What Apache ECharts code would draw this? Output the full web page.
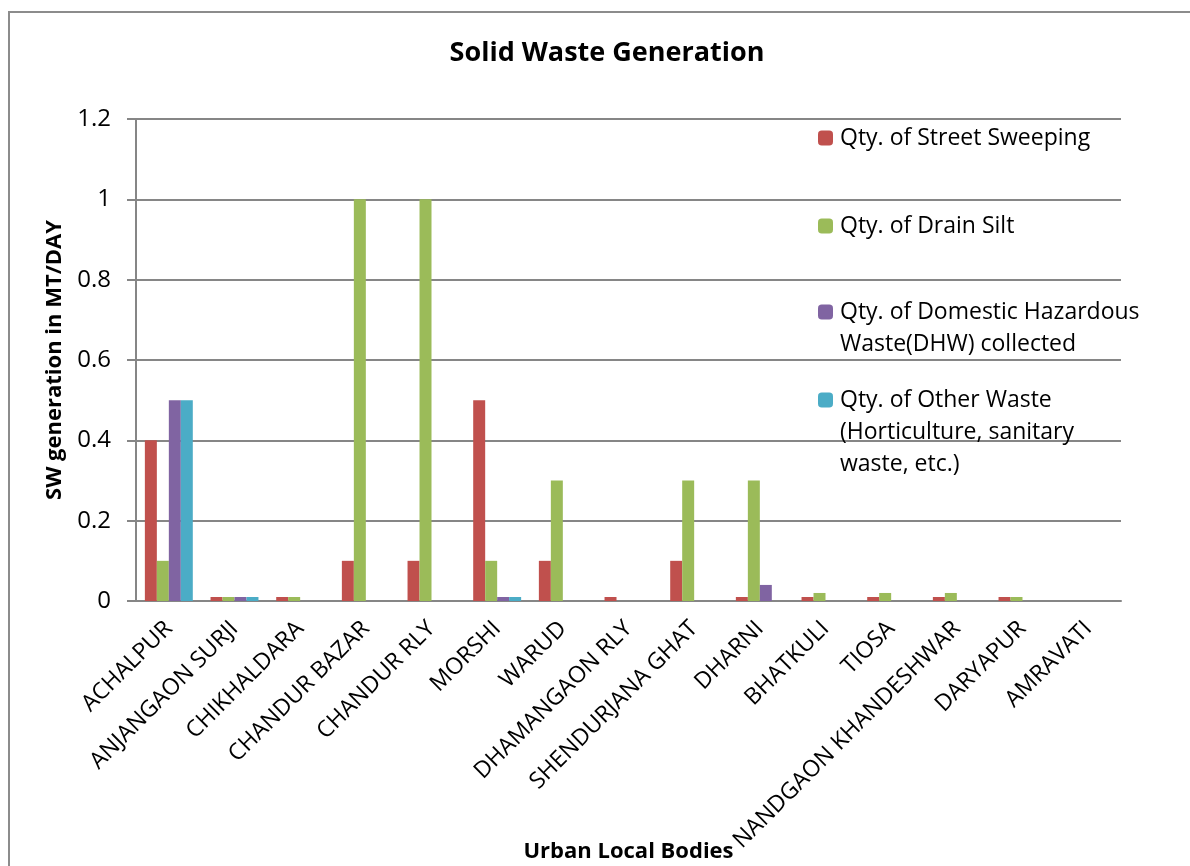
<!DOCTYPE html>
<html>
<head>
<meta charset="utf-8">
<script src="https://cdn.jsdelivr.net/npm/echarts@6/dist/echarts.min.js"></script>
<style>
  html, body { margin: 0; padding: 0; background: #fff; }
  #chart { width: 1190px; height: 866px; }
</style>
</head>
<body>
<div id="chart"></div>
<script>
// Urban local bodies of Amravati district
const categories = [
  'ACHALPUR', 'ANJANGAON SURJI', 'CHIKHALDARA', 'CHANDUR BAZAR', 'CHANDUR RLY',
  'MORSHI', 'WARUD', 'DHAMANGAON RLY', 'SHENDURJANA GHAT', 'DHARNI',
  'BHATKULI', 'TIOSA', 'NANDGAON KHANDESHWAR', 'DARYAPUR', 'AMRAVATI'
];

// Quantities in MT/DAY
const streetSweeping = [0.4, 0.01, 0.01, 0.1, 0.1, 0.5, 0.1, 0.01, 0.1, 0.01, 0.01, 0.01, 0.01, 0.01, 0];
const drainSilt      = [0.1, 0.01, 0.01, 1, 1, 0.1, 0.3, 0, 0.3, 0.3, 0.02, 0.02, 0.02, 0.01, 0];
const domesticHazard = [0.5, 0.01, 0, 0, 0, 0.01, 0, 0, 0, 0.04, 0, 0, 0, 0, 0];
const otherWaste     = [0.5, 0.01, 0, 0, 0, 0.01, 0, 0, 0, 0, 0, 0, 0, 0, 0];

const yTicks = [0, 0.2, 0.4, 0.6, 0.8, 1, 1.2];

const seriesNames = [
  'Qty. of Street Sweeping',
  'Qty. of Drain Silt',
  'Qty. of Domestic Hazardous\nWaste(DHW) collected',
  'Qty. of Other Waste\n(Horticulture, sanitary\nwaste, etc.)'
];
const seriesData = [streetSweeping, drainSilt, domesticHazard, otherWaste];
const colors = ['#C0504D', '#9BBB59', '#8064A2', '#4BACC6'];

const FONT = '"Open Sans", sans-serif';
const LEG_FS = 23;
const LEG_LH = 32;
const legendIconY = [138, 226, 312, 400];

// One legend per series so each entry sits on its own grid band;
// multi-line entries get leading blank lines so the swatch lines up with the first line.
const legends = seriesNames.map((name, i) => {
  const lines = name.split('\n').length;
  const boxH = (2 * lines - 1) * LEG_LH;
  return {
    data: [name],
    orient: 'vertical',
    left: 818,
    top: legendIconY[i] - boxH / 2,
    padding: 0,
    itemWidth: 15,
    itemHeight: 15,
    itemGap: 0,
    selectedMode: false,
    formatter: n => '\n'.repeat(lines - 1) + n,
    textStyle: {
      fontFamily: FONT,
      fontSize: LEG_FS,
      lineHeight: LEG_LH,
      color: '#000',
      padding: [0, 0, 0, 2]
    }
  };
});

const chart = echarts.init(document.getElementById('chart'), null, { renderer: 'canvas' });
chart.setOption({
  animation: false,
  backgroundColor: '#fff',
  color: colors,
  title: {
    text: 'Solid Waste Generation',
    left: 602,
    textAlign: 'center',
    top: 35,
    textStyle: { fontFamily: FONT, fontSize: 27, fontWeight: 'bold', color: '#000' }
  },
  graphic: [{
    type: 'rect',
    shape: { x: 9, y: 12, width: 1200, height: 900 },
    style: { fill: 'none', stroke: '#8c8c8c', lineWidth: 2 },
    silent: true,
    z: -1
  }],
  legend: legends,
  grid: {
    left: 136, width: 985, top: 119, height: 482,
    containLabel: false,
    outerBoundsMode: 'none'
  },
  xAxis: {
    type: 'category',
    data: categories,
    name: 'Urban Local Bodies',
    nameLocation: 'middle',
    nameGap: 240,
    nameMoveOverlap: false,
    nameTextStyle: { fontFamily: FONT, fontSize: 22, fontWeight: 'bold', color: '#000' },
    axisLine: { lineStyle: { color: '#868686', width: 2 } },
    axisTick: { show: false },
    axisLabel: {
      rotate: 45,
      interval: 0,
      margin: 24,
      fontFamily: FONT,
      fontSize: 23,
      color: '#000'
    }
  },
  yAxis: {
    type: 'value',
    min: 0,
    max: 1.2,
    interval: 0.2,
    name: 'SW generation in MT/DAY',
    nameLocation: 'middle',
    nameGap: 70,
    nameMoveOverlap: false,
    nameTextStyle: { fontFamily: FONT, fontSize: 22, fontWeight: 'bold', color: '#000' },
    axisLine: { show: true, lineStyle: { color: '#868686', width: 2 } },
    axisTick: { show: true, length: 9, lineStyle: { color: '#868686', width: 2 } },
    splitLine: { lineStyle: { color: '#868686', width: 2 } },
    axisLabel: {
      fontFamily: FONT,
      fontSize: 24,
      color: '#000',
      margin: 25,
      formatter: v => {
        const t = yTicks.find(x => Math.abs(x - v) < 1e-9);
        return t === undefined ? '' : String(t);
      }
    }
  },
  series: seriesNames.map((name, i) => ({
    name,
    type: 'bar',
    data: seriesData[i],
    barGap: '0%',
    barCategoryGap: '27%',
    itemStyle: { color: colors[i] }
  }))
});
</script>
</body>
</html>
